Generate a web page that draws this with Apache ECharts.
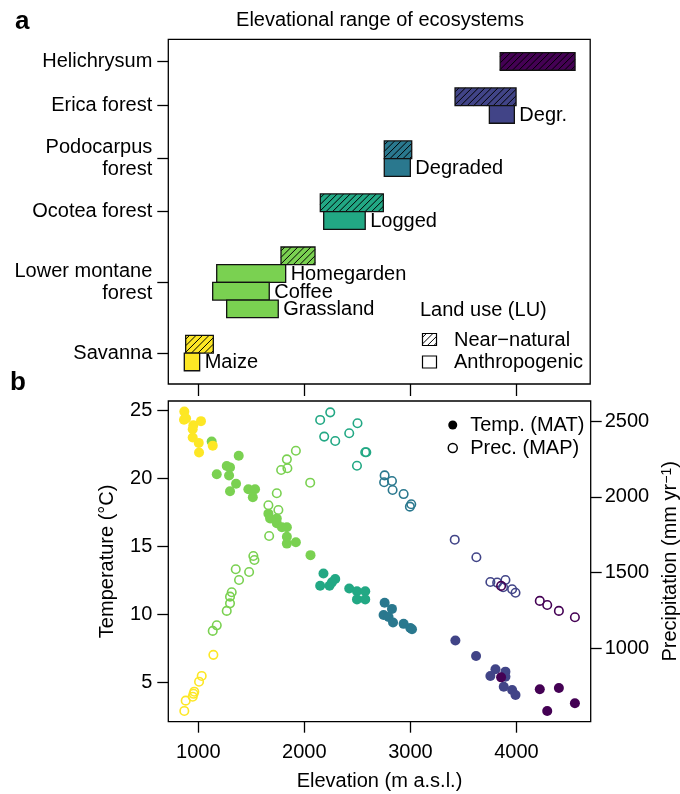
<!DOCTYPE html>
<html>
<head>
<meta charset="utf-8">
<script src="https://cdn.jsdelivr.net/npm/echarts@6/dist/echarts.min.js"></script>
<style>
  html, body { margin: 0; padding: 0; background: #fff; }
  #chart { width: 680px; height: 794px; }
</style>
</head>
<body>
<div id="chart"></div>
<script>
// ---------------- DATA ----------------
// Panel a: ecosystems (y-axis categories) and their tick positions (in bar-row units)
const ecosystems = ['Helichrysum', 'Erica forest', 'Podocarpus\nforest', 'Ocotea forest', 'Lower montane\nforest', 'Savanna'];
const ecosystemRow = [0.5, 3, 6, 9, 13, 17];
const palette = ['#440154', '#414487', '#2A788E', '#22A884', '#7AD151', '#FDE725'];

// Panel a: elevational range bars
const barEcosystem   = [0, 1, 1, 2, 2, 3, 3, 4, 4, 4, 4, 5, 5];
const barNearNatural = [1, 1, 0, 1, 0, 1, 0, 1, 0, 0, 0, 1, 0];
const barLandUse     = ['', '', 'Degr.', '', 'Degraded', '', 'Logged', '', 'Homegarden', 'Coffee', 'Grassland', '', 'Maize'];
const barFrom        = [3850, 3424, 3748, 2756, 2756, 2152, 2184, 1781, 1174, 1136, 1268, 881, 868];
const barTo          = [4557, 4000, 3984, 3015, 3002, 2747, 2576, 2102, 1825, 1670, 1755, 1142, 1013];
const barRow         = [0, 2, 3, 5, 6, 8, 9, 11, 12, 13, 14, 16, 17];

// Panel b: temperature (MAT, °C) by elevation
const savannaTemp = [[868, 24.9], [865, 24.3], [885, 24.4], [953, 23.9], [947, 23.6], [1025, 24.2], [947, 23.0], [1004, 22.6], [1007, 21.9], [1136, 22.4]];
const lowerMontaneTemp = [[1126, 22.7], [1381, 21.65], [1174, 20.3], [1268, 20.9], [1299, 20.8], [1290, 20.2], [1356, 19.6], [1299, 19.05], [1472, 19.2], [1535, 19.2], [1514, 18.6], [1661, 17.4], [1677, 17.05], [1740, 17.05], [1740, 16.7], [1788, 16.4], [1835, 16.4], [1835, 15.7], [1835, 15.2], [1920, 15.3], [2058, 14.35]];
const ocoteaTemp = [[2180, 13.0], [2149, 12.1], [2237, 12.1], [2291, 12.6], [2260, 12.35], [2423, 11.9], [2496, 11.7], [2496, 11.1], [2574, 11.7], [2574, 11.1]];
const podocarpusTemp = [[2757, 10.85], [2826, 10.4], [2747, 9.95], [2794, 9.8], [2836, 9.4], [2936, 9.3], [2999, 9.0], [3015, 8.9]];
const ericaTemp = [[3424, 8.08], [3619, 6.94], [3802, 5.96], [3896, 5.79], [3754, 5.47], [3896, 5.42], [3880, 4.68], [3959, 4.44], [3991, 4.07]];
const helichrysumTemp = [[3855, 5.37], [4220, 4.49], [4400, 4.59], [4290, 2.9], [4551, 3.46]];

// Panel b: precipitation (MAP, mm/yr) by elevation
const savannaPrec = [[868, 587], [881, 655], [947, 681], [962, 714], [955, 700], [1007, 780], [1032, 818], [1142, 957]];
const lowerMontanePrec = [[1136, 1115], [1174, 1152], [1268, 1247], [1299, 1297], [1299, 1341], [1315, 1370], [1384, 1451], [1353, 1522], [1479, 1504], [1529, 1583], [1519, 1609], [1668, 1741], [1661, 1944], [1755, 1913], [1740, 2023], [1781, 2177], [1840, 2188], [1835, 2247], [1920, 2304], [2055, 2093]];
const ocoteaPrec = [[2149, 2507], [2244, 2557], [2187, 2397], [2291, 2368], [2423, 2419], [2501, 2485], [2574, 2294], [2584, 2294], [2496, 2205]];
const podocarpusPrec = [[2757, 2141], [2752, 2096], [2826, 2104], [2832, 2045], [2936, 2018], [3008, 1951], [2995, 1935]];
const ericaPrec = [[3418, 1717], [3622, 1601], [3754, 1438], [3818, 1434], [3896, 1451], [3874, 1403], [3959, 1390], [3991, 1367]];
const helichrysumPrec = [[3855, 1412], [4220, 1313], [4290, 1286], [4400, 1247], [4551, 1205]];

// Axis ticks
const elevationTicks = [1000, 2000, 3000, 4000];
const tempTicks = [5, 10, 15, 20, 25];
const precTicks = [1000, 1500, 2000, 2500];

// ---------------- STYLE / HELPERS ----------------
const FONT = '"Liberation Sans", Arial, Helvetica, sans-serif';
const FS = 20;

function hatchLines(x, y, w, h, step) {
  const out = [];
  const cMin = x + y, cMax = x + w + y + h;
  for (let c = cMin + step * 0.6; c < cMax; c += step) {
    const xa = Math.max(x, c - (y + h));
    const xb = Math.min(x + w, c - y);
    if (xb - xa > 0.3) {
      out.push({ type: 'line', shape: { x1: xa, y1: c - xa, x2: xb, y2: c - xb },
        style: { stroke: '#000', lineWidth: 1 } });
    }
  }
  return out;
}

const barData = barFrom.map((f, i) => [f, barTo[i], barRow[i], i]);

function renderBar(params, api) {
  const i = api.value(3);
  const p0 = api.coord([api.value(0), api.value(2)]);
  const p1 = api.coord([api.value(1), api.value(2) + 1]);
  const x = p0[0], y = Math.min(p0[1], p1[1]);
  const w = p1[0] - p0[0], h = Math.abs(p1[1] - p0[1]);
  const children = [{
    type: 'rect', shape: { x: x, y: y, width: w, height: h },
    style: { fill: palette[barEcosystem[i]], stroke: 'none' }
  }];
  if (barNearNatural[i]) children.push(...hatchLines(x, y, w, h, 6.5));
  children.push({
    type: 'rect', shape: { x: x, y: y, width: w, height: h },
    style: { fill: 'none', stroke: '#111', lineWidth: 1.3 }
  });
  if (barLandUse[i]) {
    children.push({
      type: 'text', x: x + w + 5, y: y + h / 2 + 1,
      style: { text: barLandUse[i], fill: '#000', font: FS + 'px ' + FONT, align: 'left', verticalAlign: 'middle' }
    });
  }
  return { type: 'group', children: children };
}

const groups = [
  { eco: 4, temp: lowerMontaneTemp, prec: lowerMontanePrec },
  { eco: 5, temp: savannaTemp, prec: savannaPrec },
  { eco: 3, temp: ocoteaTemp, prec: ocoteaPrec },
  { eco: 2, temp: podocarpusTemp, prec: podocarpusPrec },
  { eco: 1, temp: ericaTemp, prec: ericaPrec },
  { eco: 0, temp: helichrysumTemp, prec: helichrysumPrec }
];

const scatterSeries = [];
groups.forEach(g => {
  scatterSeries.push({
    type: 'scatter', name: 'Prec. (MAP)', xAxisIndex: 1, yAxisIndex: 2,
    data: g.prec, symbol: 'circle', symbolSize: 8.5,
    itemStyle: { color: 'rgba(0,0,0,0)', borderColor: palette[g.eco], borderWidth: 1.6, opacity: 1 },
    emphasis: { disabled: true }, z: 3
  });
});
groups.forEach(g => {
  scatterSeries.push({
    type: 'scatter', name: 'Temp. (MAT)', xAxisIndex: 1, yAxisIndex: 1,
    data: g.temp, symbol: 'circle', symbolSize: 10,
    itemStyle: { color: palette[g.eco], opacity: 1 },
    emphasis: { disabled: true }, z: 3
  });
});

const tickStyle = { lineStyle: { color: '#000', width: 1.3 } };
const labelStyle = { color: '#000', fontSize: FS, fontFamily: FONT };
const plain = v => String(v);

const option = {
  animation: false,
  backgroundColor: '#fff',
  textStyle: { fontFamily: FONT },
  title: {
    text: 'Elevational range of ecosystems',
    left: 380, top: 10, textAlign: 'center', padding: 0,
    textStyle: { fontSize: FS, fontWeight: 'normal', color: '#000', fontFamily: FONT }
  },
  legend: {
    orient: 'vertical', left: 442.5, top: 410,
    itemWidth: 25, itemHeight: 9, itemGap: 3,
    textStyle: { fontSize: FS, color: '#000', fontFamily: FONT, lineHeight: 20 },
    selectedMode: false,
    data: [
      { name: 'Temp. (MAT)', icon: 'circle', itemStyle: { color: '#000', borderWidth: 0 } },
      { name: 'Prec. (MAP)', icon: 'circle', itemStyle: { color: '#fff', borderColor: '#000', borderWidth: 1.5 } }
    ]
  },
  grid: [
    { left: 168.3, top: 39.3, width: 421.9, height: 344.7, show: true, borderColor: '#000', borderWidth: 1.3,
      backgroundColor: 'transparent', containLabel: false, outerBoundsMode: 'none' },
    { left: 168.3, top: 401, width: 422.4, height: 320.7, show: true, borderColor: '#000', borderWidth: 1.3,
      backgroundColor: 'transparent', containLabel: false, outerBoundsMode: 'none' }
  ],
  xAxis: [
    { type: 'value', gridIndex: 0, min: 717, max: 4700, position: 'bottom',
      axisLine: { show: false, onZero: false }, splitLine: { show: false },
      axisTick: Object.assign({ show: true, length: 12, customValues: elevationTicks }, tickStyle),
      axisLabel: { show: false } },
    { type: 'value', gridIndex: 1, min: 717, max: 4700, position: 'bottom',
      name: 'Elevation (m a.s.l.)', nameLocation: 'middle', nameGap: 50,
      nameTextStyle: labelStyle,
      axisLine: { show: false, onZero: false }, splitLine: { show: false },
      axisTick: Object.assign({ show: true, length: 11, customValues: elevationTicks }, tickStyle),
      axisLabel: Object.assign({ margin: 21, customValues: elevationTicks, formatter: plain }, labelStyle) }
  ],
  yAxis: [
    { type: 'value', gridIndex: 0, min: -0.75, max: 18.75, inverse: true,
      axisLine: { show: false, onZero: false }, splitLine: { show: false },
      axisTick: Object.assign({ show: true, length: 11, customValues: ecosystemRow }, tickStyle),
      axisLabel: Object.assign({ margin: 16, lineHeight: 22, customValues: ecosystemRow,
        formatter: v => { const k = ecosystemRow.findIndex(p => Math.abs(p - v) < 1e-6); return k >= 0 ? ecosystems[k] : ''; } }, labelStyle) },
    { type: 'value', gridIndex: 1, min: 2.11, max: 25.68, position: 'left',
      name: 'Temperature (°C)', nameLocation: 'middle', nameGap: 51, nameRotate: 90,
      nameTextStyle: labelStyle,
      axisLine: { show: false, onZero: false }, splitLine: { show: false },
      axisTick: Object.assign({ show: true, length: 11, customValues: tempTicks }, tickStyle),
      axisLabel: Object.assign({ margin: 16, customValues: tempTicks, formatter: plain }, labelStyle) },
    { type: 'value', gridIndex: 1, min: 516, max: 2632, position: 'right',
      name: 'Precipitation (mm yr{sup|\u22121})', nameLocation: 'middle', nameGap: 59, nameRotate: 90,
      nameTextStyle: Object.assign({ rich: { sup: { fontSize: 14, fontFamily: FONT, color: '#000', verticalAlign: 'top', lineHeight: 20 } } }, labelStyle),
      axisLine: { show: false, onZero: false }, splitLine: { show: false },
      axisTick: Object.assign({ show: true, length: 11, customValues: precTicks }, tickStyle),
      axisLabel: Object.assign({ margin: 14, customValues: precTicks, formatter: plain }, labelStyle) }
  ],
  graphic: [
    { type: 'text', x: 15, y: 35, style: { text: 'a', font: 'bold 26px ' + FONT, fill: '#000', align: 'left', verticalAlign: 'bottom' } },
    { type: 'text', x: 10, y: 396, style: { text: 'b', font: 'bold 26px ' + FONT, fill: '#000', align: 'left', verticalAlign: 'bottom' } },
    { type: 'text', x: 420, y: 310, style: { text: 'Land use (LU)', font: FS + 'px ' + FONT, fill: '#000', align: 'left', verticalAlign: 'middle' } },
    { type: 'group', children: [
      { type: 'rect', shape: { x: 422.5, y: 333.5, width: 14, height: 12 }, style: { fill: '#fff', stroke: 'none' } }
    ].concat(hatchLines(422.5, 333.5, 14, 12, 6.5)).concat([
      { type: 'rect', shape: { x: 422.5, y: 333.5, width: 14, height: 12 }, style: { fill: 'none', stroke: '#000', lineWidth: 1.2 } }
    ]) },
    { type: 'text', x: 454, y: 340, style: { text: 'Near\u2212natural', font: FS + 'px ' + FONT, fill: '#000', align: 'left', verticalAlign: 'middle' } },
    { type: 'rect', shape: { x: 422.5, y: 356, width: 14, height: 12 }, style: { fill: '#fff', stroke: '#000', lineWidth: 1.2 } },
    { type: 'text', x: 454, y: 362.5, style: { text: 'Anthropogenic', font: FS + 'px ' + FONT, fill: '#000', align: 'left', verticalAlign: 'middle' } }
  ],
  series: [
    { type: 'custom', xAxisIndex: 0, yAxisIndex: 0, data: barData, encode: { x: [0, 1], y: 2 },
      renderItem: renderBar, clip: false, z: 2 }
  ].concat(scatterSeries)
};

const chart = echarts.init(document.getElementById('chart'), null, { renderer: 'canvas' });
chart.setOption(option);
</script>
</body>
</html>
